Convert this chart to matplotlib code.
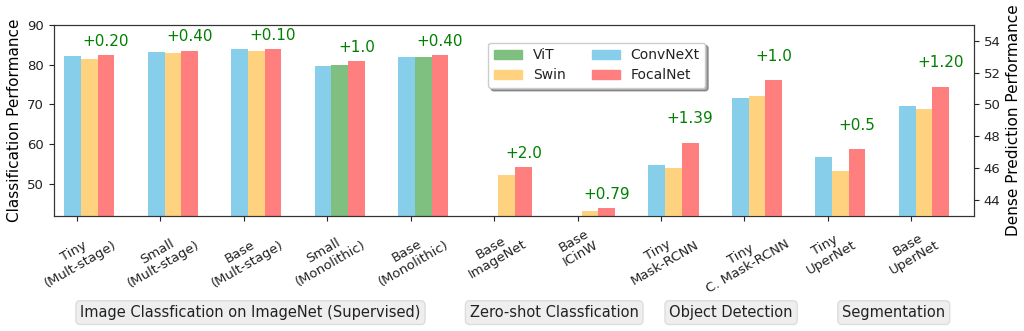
import numpy as np
import matplotlib
matplotlib.use("Agg")
import matplotlib.pyplot as plt
from matplotlib.patches import Patch

nan = np.nan

labels = ["Tiny\n(Mult-stage)", "Small\n(Mult-stage)", "Base\n(Mult-stage)",
          "Small\n(Monolithic)", "Base\n(Monolithic)",
          "Base\nImageNet", "Base\nICinW",
          "Tiny\nMask-RCNN", "Tiny\nC. Mask-RCNN",
          "Tiny\nUperNet", "Base\nUperNet"]

convnext = [82.1, 83.1, 83.8, 79.7, 81.9, nan, nan, 46.2, 50.4, 46.7, 49.9]
swin = [81.3, 83.0, 83.4, nan, nan, 52.2, 43.2, 46.0, 50.5, 45.8, 49.7]
vit = [nan, nan, nan, 79.9, 81.8, nan, nan, nan, nan, nan, nan]
focalnet = [82.3, 83.5, 83.9, 80.9, 82.4, 54.2, 44.0, 47.6, 51.5, 47.2, 51.1]
gains = ["+0.20", "+0.40", "+0.10", "+1.0", "+0.40", "+2.0", "+0.79",
         "+1.39", "+1.0", "+0.5", "+1.20"]

# first 7 groups use the classification axis, the rest the dense prediction axis
n_cls = 7

tasks = ["Image Classfication on ImageNet (Supervised)", "Zero-shot Classfication",
         "Object Detection", "Segmentation"]
task_x = [2.08, 5.72, 7.84, 9.79]

c_blue = "#87CEEB"
c_orange = "#FFD27F"
c_red = "#FF7F7F"
c_green = "#7FBF7F"
txt = "#222222"

plt.rcParams["font.family"] = "DejaVu Sans"
plt.rcParams["text.color"] = txt
plt.rcParams["xtick.color"] = txt
plt.rcParams["ytick.color"] = txt
plt.rcParams["axes.edgecolor"] = "#333333"

fig = plt.figure(figsize=(10.24, 3.31), dpi=100)
ax = fig.add_axes([0.0527, 0.3474, 0.8984, 0.578])
ax2 = ax.twinx()

w = 0.2
x = np.arange(len(labels))

for i in range(len(labels)):
    a = ax if i < n_cls else ax2
    a.bar(x[i] - 0.05, convnext[i], w, color=c_blue)
    if not np.isnan(vit[i]):
        a.bar(x[i] + 0.15, vit[i], w, color=c_green)
    else:
        a.bar(x[i] + 0.15, swin[i], w, color=c_orange)
    a.bar(x[i] + 0.35, focalnet[i], w, color=c_red)
    off = 3.5 if i < n_cls else 1.5
    a.text(x[i] + 0.35, focalnet[i] + off, gains[i], color="green",
           ha="center", va="center", fontsize=11)

ax.set_ylim(42, 90)
ax2.set_ylim(43, 55)
ax.set_xlim(-0.275, 10.75)
ax.set_yticks([50, 60, 70, 80, 90])
ax2.set_yticks([44, 46, 48, 50, 52, 54])
ax.set_xticks(x)
ax.set_xticklabels(labels, rotation=30, ha="center", fontsize=9.5, linespacing=1.1)
ax.tick_params(axis="y", labelsize=9.5)
ax2.tick_params(axis="y", labelsize=9.5)
ax.set_ylabel("Classification Performance", fontsize=11)
ax2.set_ylabel("Dense Prediction Performance", fontsize=11)

for t, tx in zip(tasks, task_x):
    ax.text(tx, -0.505, t, transform=ax.get_xaxis_transform(), ha="center",
            va="center", fontsize=10.5,
            bbox=dict(boxstyle="round,pad=0.3", fc="#EEEEEE", ec="#DDDDDD"))

handles = [Patch(color=c_green, label="ViT"), Patch(color=c_orange, label="Swin"),
           Patch(color=c_blue, label="ConvNeXt"), Patch(color=c_red, label="FocalNet")]
ax2.legend(handles=handles, ncol=2, loc="upper left", bbox_to_anchor=(0.472, 0.906),
           borderaxespad=0, shadow=True, fontsize=10, columnspacing=1.9,
           labelspacing=0.45)

fig.savefig("out.png", dpi=100)
